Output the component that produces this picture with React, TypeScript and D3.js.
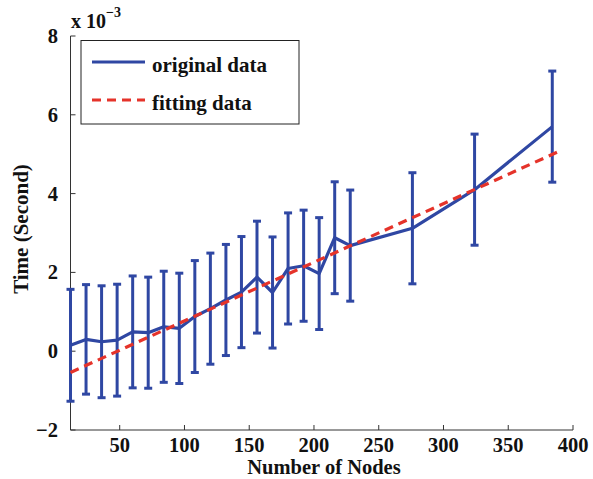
import React from "react";
import * as d3 from "d3";

const nodes = [12, 24, 36, 48, 60, 72, 84, 96, 108, 120, 132, 144, 156, 168, 180, 192, 204, 216, 228, 276, 324, 384];
const meanTime = [0.15, 0.3, 0.24, 0.28, 0.49, 0.47, 0.62, 0.58, 0.88, 1.08, 1.3, 1.5, 1.88, 1.49, 2.1, 2.17, 1.97, 2.88, 2.68, 3.12, 4.1, 5.7];
const errTime = [1.42, 1.39, 1.42, 1.42, 1.42, 1.41, 1.41, 1.4, 1.42, 1.41, 1.41, 1.41, 1.42, 1.41, 1.41, 1.41, 1.42, 1.42, 1.41, 1.41, 1.41, 1.41];
const fitX = [12, 391];
const fitY = [-0.54, 5.1];
const xTicks = [50, 100, 150, 200, 250, 300, 350, 400];
const yTicks = [-2, 0, 2, 4, 6, 8];
const legendLabels = ["original data", "fitting data"];

const BLUE = "#2f47a3";
const RED = "#e5332a";
const FONT = "'Liberation Serif', 'Times New Roman', serif";

export default function App() {
  const W = 593, H = 479;
  const x = d3.scaleLinear().domain([12, 400]).range([70.5, 573]);
  const y = d3.scaleLinear().domain([-2, 8]).range([430, 36]);
  const line = d3.line<[number, number]>().x(d => x(d[0])).y(d => y(d[1]));
  const data: [number, number][] = nodes.map((n, i) => [n, meanTime[i]]);
  const fit: [number, number][] = fitX.map((n, i) => [n, fitY[i]]);
  const cap = 4;

  return (
    <svg width={W} height={H} style={{ position: "absolute", left: 0, top: 0, background: "#fff" }}
      fontFamily={FONT} fontWeight="bold">
      {/* axes */}
      <line x1={x(12)} x2={x(400)} y1={430} y2={430} stroke="#333" strokeWidth={1} />
      <line x1={x(12)} x2={x(12)} y1={36} y2={430} stroke="#333" strokeWidth={1} />
      {xTicks.map(t => (
        <g key={"x" + t}>
          <line x1={x(t)} x2={x(t)} y1={430} y2={425} stroke="#333" strokeWidth={1} />
          <text x={x(t)} y={451.5} fontSize={20.5} textAnchor="middle" fill="#111">{t}</text>
        </g>
      ))}
      {yTicks.map(t => (
        <g key={"y" + t}>
          <line x1={x(12)} x2={x(12) + 5} y1={y(t)} y2={y(t)} stroke="#333" strokeWidth={1} />
          <text x={58} y={y(t)} dy="0.34em" fontSize={20.5} textAnchor="end" fill="#111">{t < 0 ? "\u2212" + Math.abs(t) : t}</text>
        </g>
      ))}
      <text x={71} y={28} fontSize={20} fill="#111">x 10<tspan dy={-11} fontSize={14}>{"\u2212"}3</tspan></text>
      <text x={324} y={474.3} fontSize={20.5} textAnchor="middle" fill="#111">Number of Nodes</text>
      <text transform={`translate(28,229) rotate(-90)`} fontSize={21} textAnchor="middle" fill="#111">Time (Second)</text>

      {/* error bars */}
      {nodes.map((n, i) => {
        const cx = x(n);
        const top = y(meanTime[i] + errTime[i]);
        const bot = y(meanTime[i] - errTime[i]);
        return (
          <g key={"e" + i} stroke={BLUE} strokeWidth={3}>
            <line x1={cx} x2={cx} y1={top} y2={bot} />
            <line x1={cx - cap} x2={cx + cap} y1={top} y2={top} />
            <line x1={cx - cap} x2={cx + cap} y1={bot} y2={bot} />
          </g>
        );
      })}
      <path d={line(data) || ""} fill="none" stroke={BLUE} strokeWidth={3.2} strokeLinejoin="round" />
      <path d={line(fit) || ""} fill="none" stroke={RED} strokeWidth={3.2} strokeDasharray="9,6" />

      {/* legend */}
      <rect x={81} y={40.5} width={218} height={83.5} fill="#fff" stroke="#222" strokeWidth={1} />
      <line x1={92} x2={145} y1={62} y2={62} stroke={BLUE} strokeWidth={3.2} />
      <line x1={92} x2={145} y1={100} y2={100} stroke={RED} strokeWidth={3.2} strokeDasharray="9,6" />
      <text x={152} y={72} fontSize={21} fill="#111">{legendLabels[0]}</text>
      <text x={152} y={110} fontSize={21} fill="#111">{legendLabels[1]}</text>
    </svg>
  );
}
